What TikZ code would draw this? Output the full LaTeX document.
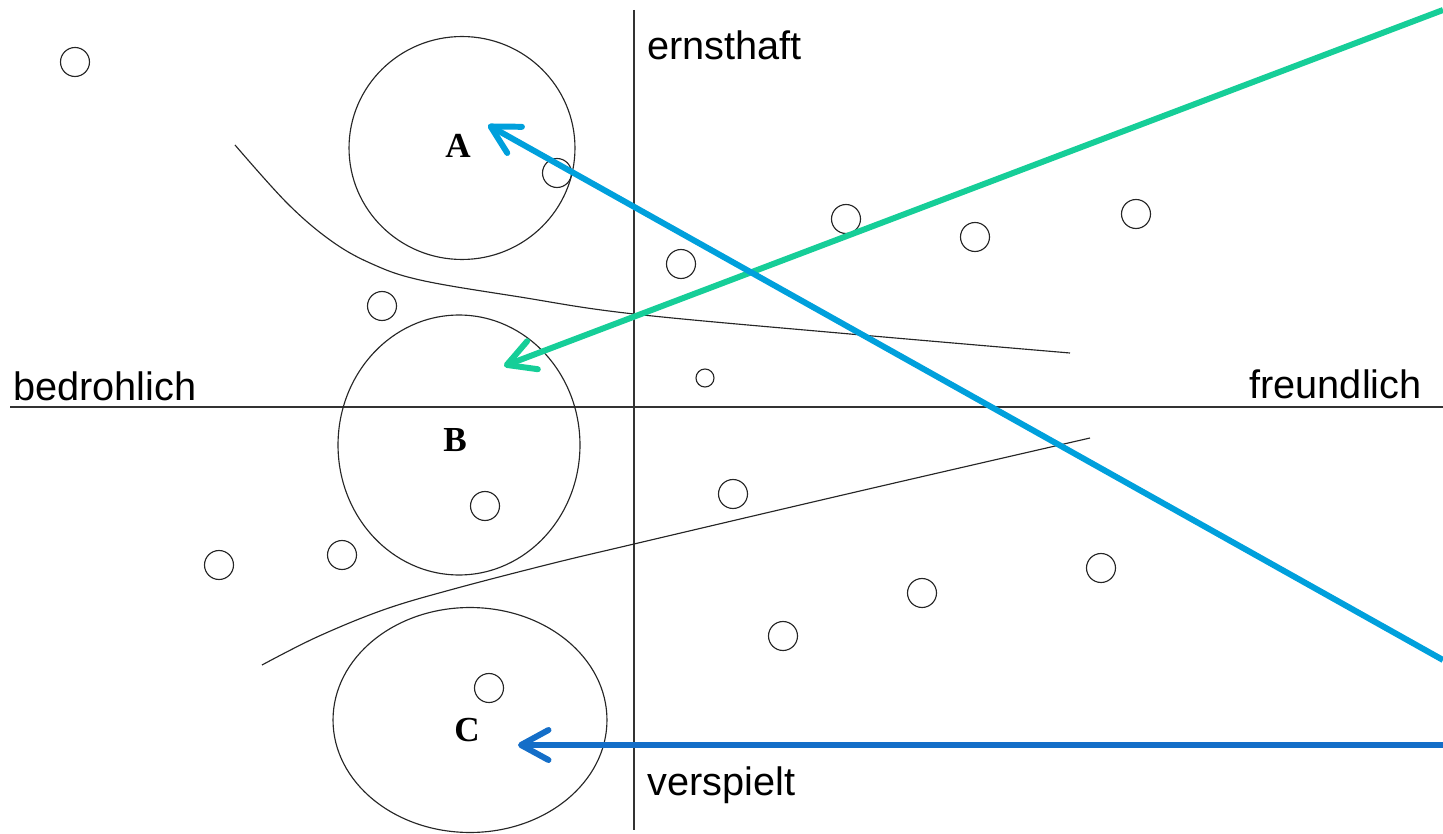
\documentclass[tikz,border=0pt]{standalone}
\usepackage{fontspec}
\setmainfont{Liberation Serif}
\setsansfont{Liberation Sans}
\usepackage{xcolor}
\usepackage{tikz}
\usetikzlibrary{shapes.geometric, arrows.meta}

\definecolor{mintgreen}{RGB}{22,206,152}
\definecolor{skyblue}{RGB}{0,160,220}
\definecolor{deepblue}{RGB}{20,110,200}

\begin{document}
\begin{tikzpicture}[
    x=0.02cm, y=-0.02cm,
    axis/.style={draw=black!80, line width=0.8pt},
    contour/.style={draw=black!85, line width=0.65pt},
    dot/.style={circle, draw=black!85, line width=0.65pt, minimum size=0.58cm, inner sep=0pt},
    smalldot/.style={dot, minimum size=0.36cm},
    zone/.style={ellipse, draw=black!85, line width=0.65pt, inner sep=0pt},
    letter/.style={font=\fontsize{20}{20}\selectfont\bfseries},
    axislabel/.style={font=\sffamily\fontsize{22.6}{22.6}\selectfont, inner sep=0pt},
    pointer/.style={-{Straight Barb[length=5.5mm, width=6mm, line width=3.4pt, round]}, line width=3.4pt},
]
\useasboundingbox (0,0) rectangle (1443,834);

% Axes
\coordinate (top) at (634,10);
\coordinate (bottom) at (634,830);
\coordinate (left) at (10,407);
\coordinate (right) at (1443,407);
\draw[axis] (top) -- (bottom);
\draw[axis] (left) -- (right);

\node[axislabel, anchor=west] (ernst) at (647,45) {ernsthaft};
\node[axislabel, anchor=west] (spiel) at (647,785) {verspielt};
\node[axislabel, anchor=west] (bedroh) at (13,386) {bedrohlich};
\node[axislabel, anchor=east] (freund) at (1422,384) {freundlich};

% Zones
\node[zone, minimum width=4.52cm, minimum height=4.46cm] (za) at (462,148) {};
\node[zone, minimum width=4.84cm, minimum height=5.2cm] (zb) at (459,445) {};
\node[zone, minimum width=5.48cm, minimum height=4.5cm] (zc) at (470,720) {};
\node[letter] (la) at (458,146) {A};
\node[letter] (lb) at (455,440) {B};
\node[letter] (lc) at (467,730) {C};

% Boundary curves
\draw[contour] plot[smooth, tension=0.6] coordinates {(235,145) (287,203) (330,240) (370,263) (420,280) (520,297) (634,314) (850,334) (1070,353)};
\draw[contour] plot[smooth, tension=0.6] coordinates {(262,665) (317,637) (383,610) (450,590) (550,564) (634,544) (860,491) (1090,438)};

% Single items
\foreach \x/\y [count=\i] in {75/62, 557/173, 846/219, 975/237, 1136/214, 681/264,
    382/306, 733/494, 485/506, 219/565, 342/555, 1101/568, 922/593, 783/636, 489/688} {
    \node[dot] (d\i) at (\x,\y) {};
}
\node[smalldot] (d0) at (705,378) {};

% Pointers
\coordinate (gs) at (1443,10);
\coordinate (ge) at (504,366);
\coordinate (bs) at (1443,660);
\coordinate (be) at (488,125);
\coordinate (cs) at (1443,745);
\coordinate (ce) at (518,745);
\draw[pointer, mintgreen] (gs) -- (ge);
\draw[pointer, skyblue] (bs) -- (be);
\draw[pointer, deepblue] (cs) -- (ce);

\end{tikzpicture}
\end{document}
